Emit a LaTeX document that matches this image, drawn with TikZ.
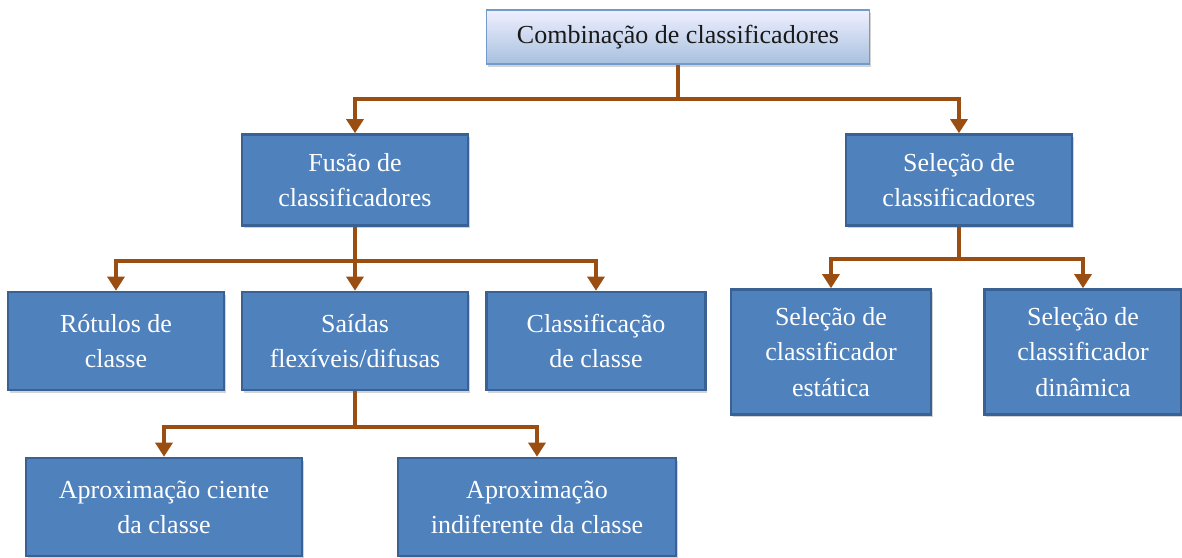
\documentclass[tikz,border=0pt]{standalone}
\usepackage{fontspec}
\setmainfont{Liberation Serif}
\usepackage{tikz}
\usetikzlibrary{arrows.meta,positioning,shadows}

\definecolor{boxblue}{HTML}{4F81BD}
\definecolor{boxedge}{HTML}{3A6194}
\definecolor{linkbrown}{HTML}{9A4E12}

\begin{document}
\begin{tikzpicture}[>={Triangle[width=12pt,length=10pt]},node distance=3.5cm,on grid,
  font=\fontsize{18.5}{25}\selectfont]
\tikzset{classbox/.style={rectangle,draw=boxedge,line width=1.8pt,fill=boxblue,text=white,
    align=center,inner sep=2pt,drop shadow={opacity=0.35,shadow xshift=1.2pt,shadow yshift=-1.8pt}}}
\tikzset{rootbox/.style={rectangle,draw=boxblue!80!white,line width=1.2pt,top color=blue!6!white,
    bottom color=boxblue!50!white,text=black!90,align=center,
    drop shadow={opacity=0.35,shadow xshift=1.2pt,shadow yshift=-1.8pt}}}
\tikzset{link/.style={->,draw=linkbrown,line width=2.8pt,color=linkbrown}}
\useasboundingbox (-16.95,0.925) rectangle (12.6,-13.025);
  \node[rootbox,minimum width=9.575cm,minimum height=1.35cm] (Combinacao) {Combinação de classificadores};
  \node[classbox,minimum width=5.65cm,minimum height=2.275cm] (Fusao) [below left=3.575cm and 8.075cm of Combinacao] {Fusão de\\classificadores};
  \node[classbox,minimum width=5.65cm,minimum height=2.275cm] (Selecao) [below right=3.575cm and 7.025cm of Combinacao] {Seleção de\\classificadores};
  \node[classbox,minimum width=5.4cm,minimum height=2.45cm] (Rotulos) [below left=4.025cm and 5.975cm of Fusao] {Rótulos de\\classe};
  \node[classbox,minimum width=5.65cm,minimum height=2.45cm] (Saidas) [below=4.025cm of Fusao] {Saídas\\flexíveis/difusas};
  \node[classbox,minimum width=5.475cm,minimum height=2.45cm] (Classificacao) [below right=4.025cm and 6.025cm of Fusao] {Classificação\\de classe};
  \node[classbox,minimum width=5cm,minimum height=3.125cm] (Estatica) [below left=4.3cm and 3.2cm of Selecao] {Seleção de\\classificador\\estática};
  \node[classbox,minimum width=4.925cm,minimum height=3.125cm] (Dinamica) [below right=4.3cm and 3.1cm of Selecao] {Seleção de\\classificador\\dinâmica};
  \node[classbox,minimum width=6.9cm,minimum height=2.45cm] (Ciente) [below left=4.15cm and 4.775cm of Saidas] {Aproximação ciente\\da classe};
  \node[classbox,minimum width=6.95cm,minimum height=2.45cm] (Indiferente) [below right=4.15cm and 4.55cm of Saidas] {Aproximação\\indiferente da classe};
\path[link] (Combinacao.south) -- ++(0,-0.85) -| (Fusao.north);
\path[link] (Combinacao.south) -- ++(0,-0.85) -| (Selecao.north);
\path[link] (Fusao.south) -- ++(0,-0.85) -| (Rotulos.north);
\path[link] (Fusao.south) -- (Saidas.north);
\path[link] (Fusao.south) -- ++(0,-0.85) -| (Classificacao.north);
\path[link] (Selecao.south) -- ++(0,-0.8) -| (Estatica.north);
\path[link] (Selecao.south) -- ++(0,-0.8) -| (Dinamica.north);
\path[link] (Saidas.south) -- ++(0,-0.9) -| (Ciente.north);
\path[link] (Saidas.south) -- ++(0,-0.9) -| (Indiferente.north);
\end{tikzpicture}
\end{document}
